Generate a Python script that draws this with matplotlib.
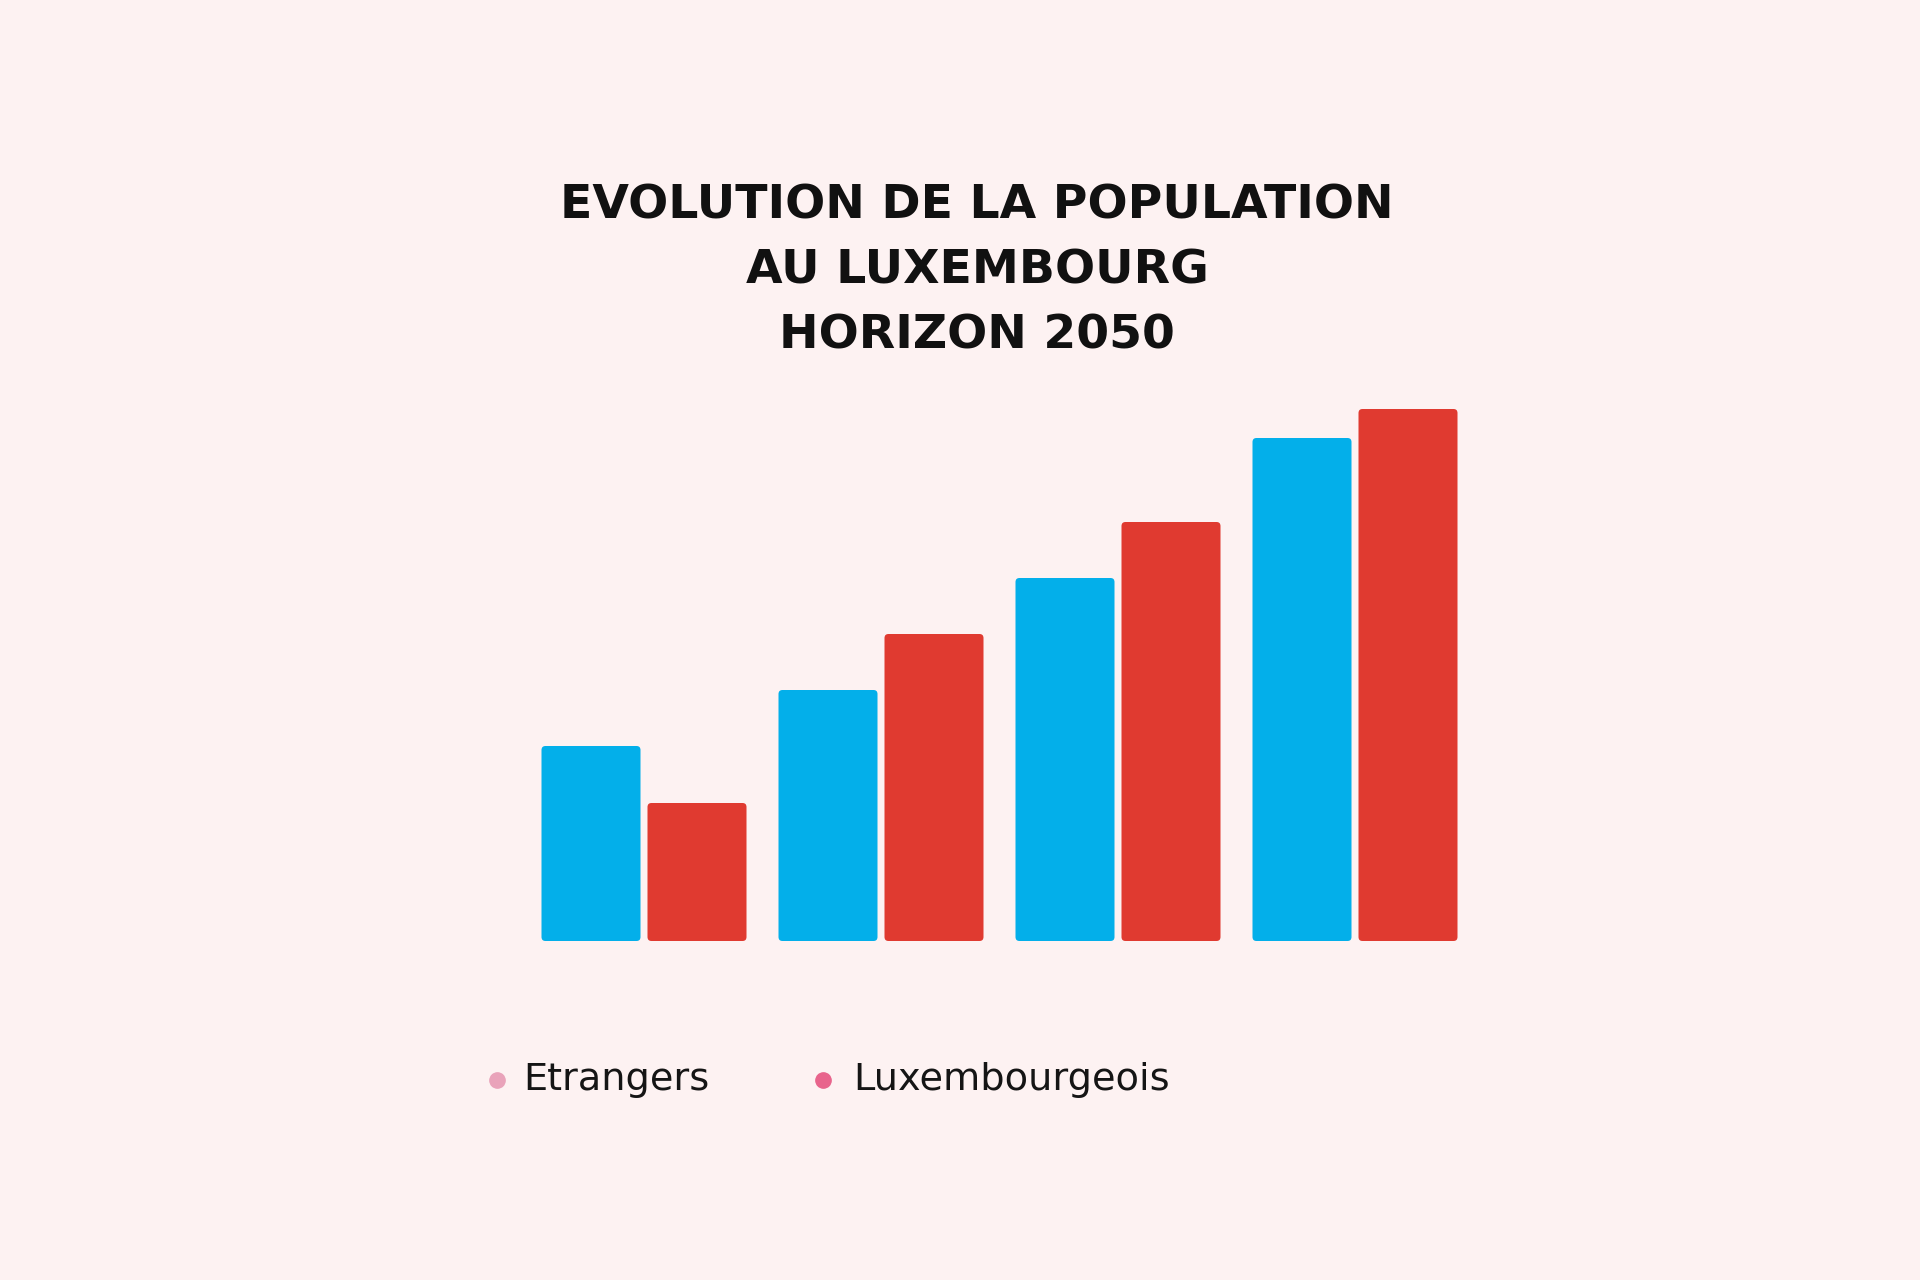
import matplotlib.pyplot as plt
from matplotlib.patches import FancyBboxPatch

# values (no axis in the source, arbitrary units)
groups = ["1", "2", "3", "4"]
etrangers = [195, 251, 363, 503]
luxembourgeois = [138, 307, 419, 532]
series_names = ["Etrangers", "Luxembourgeois"]
title_lines = ["EVOLUTION DE LA POPULATION", "AU LUXEMBOURG", "HORIZON 2050"]

bg = "#fdf2f2"
blue = "#03afea"
red = "#e03a30"
dot_colors = ["#e9a3ba", "#e8648c"]

W, H = 1920, 1280
fig = plt.figure(figsize=(W / 100, H / 100), dpi=100, facecolor=bg)

# axes placed so that group spacing is ~237 px and baseline at y=941 px
step = 237.0
x0 = 644.0
xmin, xmax = -0.6, 3.6
ax = fig.add_axes([(x0 + xmin * step) / W, 1 - 941 / H,
                   (xmax - xmin) * step / W, 600 / H])
ax.set_xlim(xmin, xmax)
ax.set_ylim(0, 600)
ax.set_facecolor(bg)
ax.axis("off")

width = 99 / step
off = 106 / 2 / step
x = range(len(groups))
b1 = ax.bar([i - off for i in x], etrangers, width, color=blue)
b2 = ax.bar([i + off for i in x], luxembourgeois, width, color=red)

# swap plain rectangles for slightly rounded ones
for bars in (b1, b2):
    for r in bars:
        r.set_visible(False)
        p = FancyBboxPatch((r.get_x(), r.get_y()), r.get_width(), r.get_height(),
                           boxstyle="round,pad=0,rounding_size=%f" % (4 / step),
                           mutation_aspect=step, facecolor=r.get_facecolor(),
                           edgecolor="none")
        ax.add_patch(p)

# title
for k, line in enumerate(title_lines):
    fig.text(977 / W, 1 - (206 + 65 * k) / H, line, ha="center", va="center",
             fontsize=34, fontweight="bold", family="DejaVu Sans", color="#111111")

# legend
leg_y = 1 - 1080 / H
for name, col, dx, tx in zip(series_names, dot_colors, [497, 823], [523, 853]):
    fig.lines.append(plt.Line2D([dx / W], [leg_y], marker="o", markersize=11,
                                color=col, transform=fig.transFigure,
                                linestyle="none"))
    fig.text(tx / W, leg_y, name, ha="left", va="center", fontsize=27.5,
             family="DejaVu Sans", color="#151515")

fig.savefig("out.png", dpi=100, facecolor=bg)
